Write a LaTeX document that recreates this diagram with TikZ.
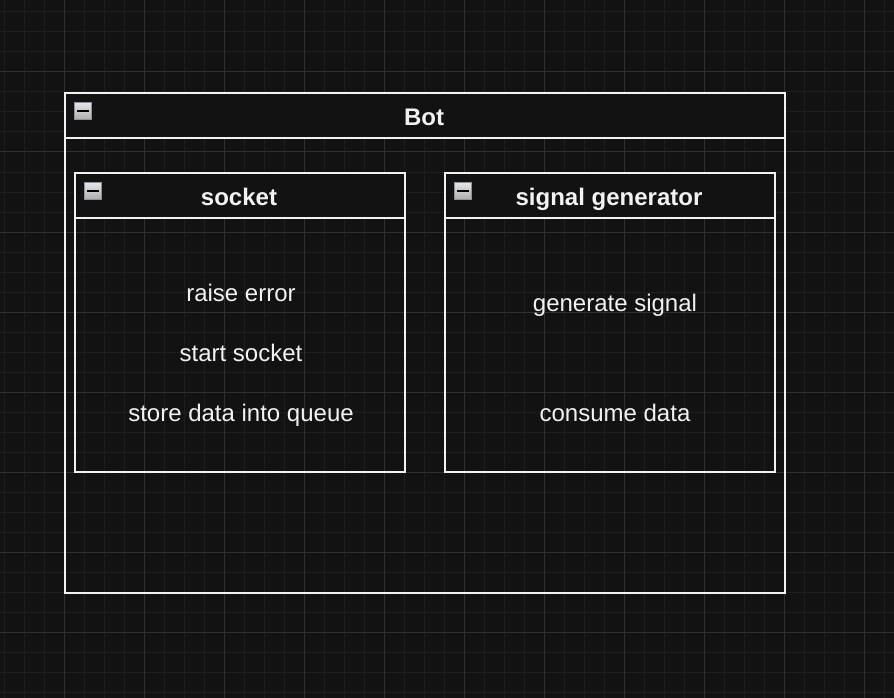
\documentclass[tikz,border=0pt]{standalone}
\usepackage{fontspec}
\setmainfont{Liberation Sans}
\definecolor{bgc}{HTML}{121212}
\definecolor{minorc}{HTML}{1E1E1E}
\definecolor{majorc}{HTML}{303030}
\definecolor{linec}{HTML}{F2F2F2}
\definecolor{iconedge}{HTML}{8A93A2}
\begin{document}
\begin{tikzpicture}[x=1pt,y=-1pt,
  frame/.style={draw=linec,line width=2pt,inner sep=0pt,outer sep=0pt,minimum width=#1},
  header/.style={frame=#1,fill=bgc,minimum height=45pt},
  body/.style={frame=#1},
  titletext/.style={text=linec,font=\fontsize{24}{28}\selectfont\bfseries,anchor=base,inner sep=0pt},
  itemtext/.style={text=linec,font=\fontsize{24}{28}\selectfont,anchor=base,inner sep=0pt},
  iconbox/.style={draw=iconedge,line width=1.6pt,top color=white!90!black,bottom color=white!68!black,
    minimum width=17pt,minimum height=17pt,inner sep=0pt,
    path picture={\fill[black] ([xshift=-6pt,yshift=-1.3pt]path picture bounding box.center) rectangle ([xshift=6pt,yshift=1.3pt]path picture bounding box.center);}}
]
\useasboundingbox (0,0) rectangle (894,698);
\fill[bgc] (0,0) rectangle (894,698);
% grid
\foreach \x in {4,24,...,884} \draw[minorc,line width=1pt] (\x,0) -- (\x,698);
\foreach \y in {12,32,...,692} \draw[minorc,line width=1pt] (0,\y) -- (894,\y);
\foreach \x in {64,144,...,884} \draw[majorc,line width=1pt] (\x,0) -- (\x,698);
\foreach \y in {72,152,...,692} \draw[majorc,line width=1pt] (0,\y) -- (894,\y);

% Bot container
\node[body=720pt,minimum height=500pt] (bot) at (425,343) {};
\node[header=720pt] (bothead) at (425,115.5) {};
\node[titletext] (bottitle) at (424,125) {Bot};
\node[iconbox] (boticon) at (83,111) {};

% socket
\node[body=330pt,minimum height=299pt] (socket) at (240,322.5) {};
\node[header=330pt] (sockethead) at (240,195.5) {};
\node[titletext] (sockettitle) at (239,205) {socket};
\node[iconbox] (socketicon) at (93,191) {};
\node[itemtext] (raise) at (241,301) {raise error};
\node[itemtext] (start) at (241,361) {start socket};
\node[itemtext] (store) at (241,421) {store data into queue};

% signal generator
\node[body=330pt,minimum height=299pt] (siggen) at (610,322.5) {};
\node[header=330pt] (siggenhead) at (610,195.5) {};
\node[titletext] (siggentitle) at (609,205) {signal generator};
\node[iconbox] (siggenicon) at (463,191) {};
\node[itemtext] (gen) at (615,311) {generate signal};
\node[itemtext] (consume) at (615,421) {consume data};
\end{tikzpicture}
\end{document}
